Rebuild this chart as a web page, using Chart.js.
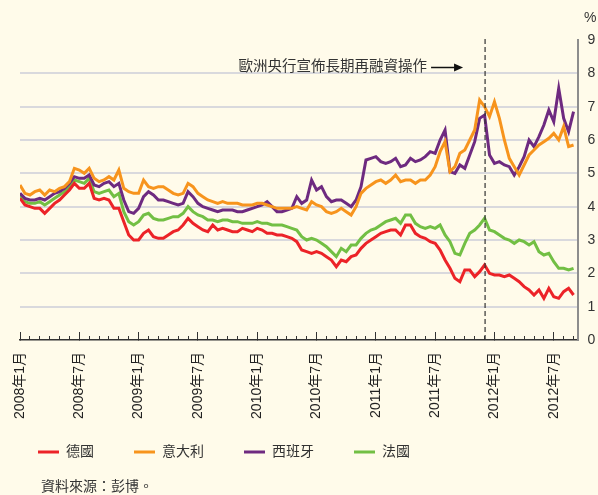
<!DOCTYPE html>
<html>
<head>
<meta charset="utf-8">
<script src="https://cdn.jsdelivr.net/npm/chart.js@4.4.1/dist/chart.umd.min.js"></script>
<style>
  html, body { margin: 0; padding: 0; background: #fffbea; }
  #wrap { width: 598px; height: 495px; }
</style>
</head>
<body>
<div id="wrap"><canvas id="yieldChart" width="598" height="495"></canvas></div>
<script>
// 10-year government bond yields (%), read about twice a month, Jan 2008 - Sep 2012
// one row = six months
const germany = [
    4.25, 4.05, 4.0, 3.95, 3.95, 3.8, 3.95, 4.1, 4.2, 4.35, 4.5, 4.7,
    4.55, 4.55, 4.7, 4.25, 4.2, 4.25, 4.2, 3.95, 3.95, 3.55, 3.15, 3.0,
    3.0, 3.2, 3.3, 3.1, 3.05, 3.05, 3.15, 3.25, 3.3, 3.45, 3.65, 3.5,
    3.4, 3.3, 3.25, 3.45, 3.3, 3.35, 3.3, 3.25, 3.25, 3.35, 3.3, 3.25,
    3.35, 3.3, 3.2, 3.2, 3.15, 3.15, 3.1, 3.05, 2.95, 2.7, 2.65, 2.6,
    2.65, 2.6, 2.5, 2.4, 2.2, 2.4, 2.35, 2.5, 2.55, 2.75, 2.9, 3.0,
    3.1, 3.2, 3.25, 3.3, 3.3, 3.15, 3.45, 3.45, 3.2, 3.1, 3.05, 2.95,
    2.9, 2.7, 2.4, 2.15, 1.85, 1.75, 2.1, 2.1, 1.9, 2.05, 2.25, 2.0,
    1.95, 1.95, 1.9, 1.95, 1.85, 1.75, 1.6, 1.5, 1.35, 1.5, 1.25, 1.55,
    1.3, 1.25, 1.45, 1.55, 1.35
];
const italy = [
    4.65, 4.4, 4.35, 4.45, 4.5, 4.35, 4.5, 4.45, 4.55, 4.6, 4.75, 5.15,
    5.1, 5.0, 5.15, 4.85, 4.75, 4.8, 4.9, 4.8, 5.1, 4.55, 4.45, 4.4,
    4.4, 4.8, 4.6, 4.55, 4.6, 4.6, 4.5, 4.4, 4.35, 4.4, 4.7, 4.6,
    4.4, 4.3, 4.2, 4.15, 4.1, 4.15, 4.1, 4.1, 4.1, 4.05, 4.05, 4.05,
    4.1, 4.1, 4.05, 4.0, 3.95, 3.95, 3.95, 3.95, 4.0, 3.95, 3.9, 4.15,
    4.05, 4.0, 3.85, 3.8, 3.85, 3.95, 3.85, 3.75, 4.0, 4.4, 4.55, 4.65,
    4.75, 4.8, 4.7, 4.8, 4.95, 4.75, 4.8, 4.8, 4.7, 4.8, 4.8, 4.95,
    5.2, 5.65, 5.95, 5.05, 5.2, 5.6, 5.7, 6.0, 6.3, 7.2, 7.0, 6.7,
    7.15, 6.65, 6.0, 5.45, 5.2, 4.95, 5.25, 5.55, 5.7, 5.85, 5.95, 6.05,
    6.2, 6.0, 6.4, 5.8, 5.85
];
const spain = [
    4.4, 4.25, 4.2, 4.2, 4.25, 4.2, 4.3, 4.4, 4.45, 4.55, 4.7, 4.9,
    4.85, 4.85, 4.95, 4.65, 4.6, 4.7, 4.75, 4.6, 4.7, 4.2, 3.85, 3.8,
    3.95, 4.3, 4.45, 4.35, 4.2, 4.2, 4.15, 4.1, 4.05, 4.1, 4.45, 4.3,
    4.1, 4.0, 3.95, 3.9, 3.85, 3.9, 3.9, 3.9, 3.85, 3.85, 3.9, 3.95,
    4.0, 4.05, 4.15, 4.0, 3.85, 3.85, 3.9, 3.95, 4.3, 4.1, 4.2, 4.8,
    4.5, 4.6, 4.3, 4.15, 4.2, 4.2, 4.1, 4.0, 4.2, 4.6, 5.4, 5.45,
    5.5, 5.35, 5.3, 5.35, 5.45, 5.2, 5.25, 5.45, 5.35, 5.4, 5.5, 5.65,
    5.6, 6.0, 6.3, 5.05, 5.0, 5.25, 5.15, 5.55, 5.95, 6.65, 6.75, 5.55,
    5.3, 5.35, 5.25, 5.2, 4.95, 5.2, 5.5, 6.0, 5.8, 6.1, 6.45, 6.9,
    6.55, 7.55, 6.65, 6.25, 6.85
];
const france = [
    4.35, 4.15, 4.1, 4.1, 4.15, 4.05, 4.15, 4.25, 4.35, 4.45, 4.6, 4.8,
    4.75, 4.7, 4.85, 4.45, 4.4, 4.45, 4.5, 4.3, 4.4, 3.85, 3.55, 3.45,
    3.55, 3.75, 3.8, 3.65, 3.6, 3.6, 3.65, 3.7, 3.7, 3.8, 4.0, 3.85,
    3.75, 3.7, 3.6, 3.6, 3.55, 3.6, 3.6, 3.55, 3.55, 3.5, 3.5, 3.5,
    3.55, 3.5, 3.5, 3.45, 3.45, 3.45, 3.4, 3.35, 3.3, 3.1, 3.0, 3.05,
    3.0, 2.9, 2.8, 2.65, 2.5, 2.75, 2.65, 2.85, 2.85, 3.05, 3.2, 3.3,
    3.35, 3.45, 3.55, 3.6, 3.65, 3.5, 3.75, 3.75, 3.5, 3.4, 3.35, 3.4,
    3.35, 3.45, 3.15, 2.95, 2.6, 2.55, 2.9, 3.2, 3.3, 3.45, 3.65, 3.3,
    3.25, 3.15, 3.05, 3.0, 2.9, 3.0, 2.95, 2.85, 2.95, 2.65, 2.55, 2.6,
    2.35, 2.15, 2.15, 2.1, 2.15
];

const seriesNames = ['德國', '意大利', '西班牙', '法國'];
const seriesColors = ['#ec2328', '#f7941d', '#6e2a80', '#72bf44'];
const yTicks = [0, 1, 2, 3, 4, 5, 6, 7, 8, 9];

const startYear = 2008;
const axisEnd = 56.4;     // months after Jan 2008 where the axis stops
const ltroMonth = 47.05;  // ECB announcement, Dec 2011
const ltroLabel = '歐洲央行宣佈長期再融資操作';
const sourceNote = '資料來源：彭博。';

const FONT = '"Liberation Sans", "Noto Sans CJK TC", sans-serif';
Chart.defaults.font.family = FONT;
Chart.defaults.color = '#333';

// sample dates, in months from Jan 2008 (two per month)
const sampleMonths = germany.map((_, i) => i / 2);

const monthLabel = (v) => {
    const y = startYear + Math.floor(v / 12);
    const m = (v % 12) + 1;
    return `${y}年${m}月`;
};

const notesPlugin = {
    id: 'notes',
    beforeDraw(chart) {
        const ctx = chart.ctx;
        ctx.save();
        ctx.fillStyle = '#fffbea';
        ctx.fillRect(0, 0, chart.width, chart.height);
        ctx.restore();
    },
    afterLayout(chart) {
        // legend row sits tighter under the axis labels and further left than its box
        if (chart.legend) {
            chart.legend.left = -2;
            chart.legend.top = chart.chartArea.bottom + 65;
        }
    },
    afterDatasetsDraw(chart) {
        const { ctx, chartArea, scales } = chart;
        const x = scales.x.getPixelForValue(ltroMonth);
        ctx.save();

        // dashed marker
        ctx.strokeStyle = '#333';
        ctx.lineWidth = 1.2;
        ctx.setLineDash([5, 3]);
        ctx.beginPath();
        ctx.moveTo(x, chartArea.top - 1);
        ctx.lineTo(x, chartArea.bottom);
        ctx.stroke();
        ctx.setLineDash([]);

        // label and arrow
        const ay = 67.5;
        ctx.fillStyle = '#333';
        ctx.font = '14.5px ' + FONT;
        ctx.textAlign = 'right';
        ctx.textBaseline = 'middle';
        ctx.fillText(ltroLabel, x - 58, ay - 1);
        ctx.strokeStyle = '#111';
        ctx.lineWidth = 1.5;
        ctx.beginPath();
        ctx.moveTo(x - 54, ay);
        ctx.lineTo(x - 30, ay);
        ctx.stroke();
        ctx.fillStyle = '#111';
        ctx.beginPath();
        ctx.moveTo(x - 22, ay);
        ctx.lineTo(x - 31, ay - 4);
        ctx.lineTo(x - 31, ay + 4);
        ctx.closePath();
        ctx.fill();

        // unit and source
        ctx.fillStyle = '#333';
        ctx.textAlign = 'left';
        ctx.font = '14px ' + FONT;
        ctx.fillText('%', 584, 18);
        ctx.fillText(sourceNote, 41, 487);
        ctx.restore();
    }
};

const ctx = document.getElementById('yieldChart').getContext('2d');
new Chart(ctx, {
    type: 'line',
    data: {
        datasets: [germany, italy, spain, france].map((vals, i) => ({
            label: seriesNames[i],
            data: sampleMonths.map((m, j) => ({ x: m, y: vals[j] })),
            borderColor: seriesColors[i],
            backgroundColor: seriesColors[i],
            borderWidth: 3,
            pointRadius: 0,
            tension: 0,
            fill: false
        }))
    },
    options: {
        responsive: false,
        animation: false,
        layout: { padding: { left: 10.7, top: 40, right: 0, bottom: 7 } },
        plugins: {
            legend: {
                position: 'bottom',
                align: 'start',
                labels: {
                    usePointStyle: true,
                    pointStyle: 'line',
                    pointStyleWidth: 21,
                    padding: 40,
                    color: '#333',
                    font: { size: 14 }
                }
            },
            tooltip: { enabled: false }
        },
        scales: {
            xMinor: {
                type: 'linear',
                position: 'bottom',
                weight: 0,
                min: 0,
                max: axisEnd,
                ticks: { display: false, stepSize: 1, includeBounds: false, autoSkip: false },
                grid: { drawOnChartArea: false, tickLength: -4, color: '#333', lineWidth: 1 },
                border: { display: false },
                afterFit: (s) => { s.height = 0; }
            },
            x: {
                type: 'linear',
                position: 'bottom',
                weight: 1,
                min: 0,
                max: axisEnd,
                ticks: {
                    stepSize: 6,
                    includeBounds: false,
                    autoSkip: false,
                    minRotation: 90,
                    maxRotation: 90,
                    padding: 20,
                    labelOffset: 0,
                    color: '#222',
                    font: { size: 14 },
                    callback: (v) => monthLabel(v)
                },
                grid: { drawOnChartArea: false, tickLength: -8, color: '#333', lineWidth: 1 },
                border: { color: '#333', width: 1.5 },
                afterFit: (s) => { s.height = 84; }
            },
            y: {
                position: 'right',
                min: yTicks[0],
                max: yTicks[yTicks.length - 1],
                afterBuildTicks: (s) => { s.ticks = yTicks.map(v => ({ value: v })); },
                ticks: { padding: 10, color: '#333', font: { size: 14 } },
                grid: {
                    color: (c) => (c.tick && c.tick.value > 0 && c.tick.value < 9 ? '#d9d9dd' : 'rgba(0,0,0,0)'),
                    lineWidth: 2,
                    drawTicks: false
                },
                border: { color: '#8d8d8d', width: 2 },
                afterFit: (s) => { s.width = 20.5; }
            }
        }
    },
    plugins: [notesPlugin]
});
</script>
</body>
</html>
